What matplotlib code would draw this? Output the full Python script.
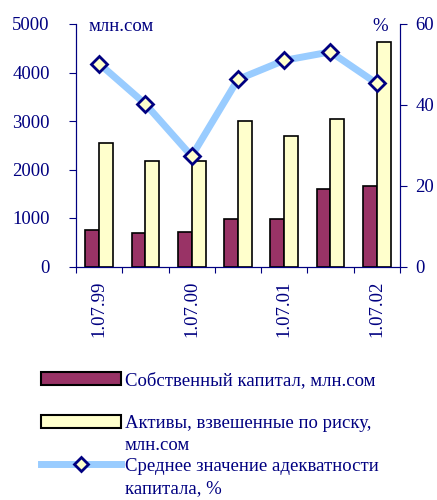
import numpy as np
import matplotlib
matplotlib.use("Agg")
import matplotlib.pyplot as plt
from matplotlib.lines import Line2D
from matplotlib.patches import Patch

plt.rcParams['font.family'] = ['Liberation Serif', 'DejaVu Serif']

# data
dates = ['1.07.99', '1.01.00', '1.07.00', '1.01.01', '1.07.01', '1.01.02', '1.07.02']
own_capital = [760, 700, 720, 970, 970, 1600, 1650]
risk_assets = [2540, 2175, 2175, 3000, 2700, 3050, 4620]
adequacy = [50.2, 40.2, 27.3, 46.3, 51.0, 53.1, 45.3]

navy = '#000080'
fs = 13.5
x = np.arange(len(dates))
w = 0.3

fig = plt.figure(figsize=(4.37, 5.0), dpi=100)
ax = fig.add_axes([0.174, 0.467, 0.741, 0.485])
ax.bar(x - w / 2, own_capital, w, color='#993366', edgecolor='black', linewidth=1.2)
ax.bar(x + w / 2, risk_assets, w, color='#FFFFCC', edgecolor='black', linewidth=1.2)
ax.set_xlim(-0.5, len(dates) - 0.5)
ax.set_ylim(0, 5000)
ax.set_yticks([0, 1000, 2000, 3000, 4000, 5000])

ax2 = ax.twinx()
ax2.plot(x, adequacy, color='#99CCFF', linewidth=5, marker='D', markersize=8,
         markerfacecolor='#FFFFCC', markeredgecolor=navy, markeredgewidth=2)
ax2.set_ylim(0, 60)
ax2.set_yticks([0, 20, 40, 60])

# category ticks sit between the groups, labels every second date
ax.set_xticks(np.arange(len(dates) + 1) - 0.5)
ax.set_xticklabels([])
ax.set_xticks(x[::2], minor=True)
ax.set_xticklabels(dates[::2], minor=True, rotation=90, fontsize=fs, color=navy)
ax.tick_params(axis='x', which='minor', length=0, pad=10)
ax.tick_params(axis='x', which='major', length=4, color=navy, direction='out')

for a in (ax, ax2):
    for s in a.spines.values():
        s.set_color(navy)
    a.spines['top'].set_visible(False)
    a.patch.set_visible(False)
ax.tick_params(axis='y', colors=navy, labelsize=fs, length=5, pad=14)
ax2.tick_params(axis='y', colors=navy, labelsize=fs, length=5, pad=6)

ax.text(0.04, 0.99, 'млн.сом', transform=ax.transAxes, color=navy, fontsize=fs,
        va='center', ha='left')
ax2.text(0.938, 0.99, '%', transform=ax.transAxes, color=navy, fontsize=fs,
         va='center', ha='center')

handles = [Patch(facecolor='#993366', edgecolor='black', linewidth=1.5),
           Patch(facecolor='#FFFFCC', edgecolor='black', linewidth=1.5),
           Line2D([], [], color='#99CCFF', linewidth=5, marker='D', markersize=7,
                  markerfacecolor='#FFFFCC', markeredgecolor=navy, markeredgewidth=2)]
labels = ['Собственный капитал, млн.сом\n ',
          'Активы, взвешенные по риску,\nмлн.сом',
          'Среднее значение адекватности\nкапитала, %']
leg = fig.legend(handles, labels, loc='upper left', bbox_to_anchor=(0.072, 0.274),
                 frameon=False, fontsize=fs, handlelength=4.27, handleheight=0.65,
                 handletextpad=0.2, labelspacing=0.2, borderpad=0)
for t in leg.get_texts():
    t.set_color(navy)
    t.set_linespacing(1.38)
# put each handle level with the first line of its label
for col in leg._legend_handle_box.get_children():
    for row in col.get_children():
        row.align = 'top'

fig.savefig('out.png', dpi=100)
